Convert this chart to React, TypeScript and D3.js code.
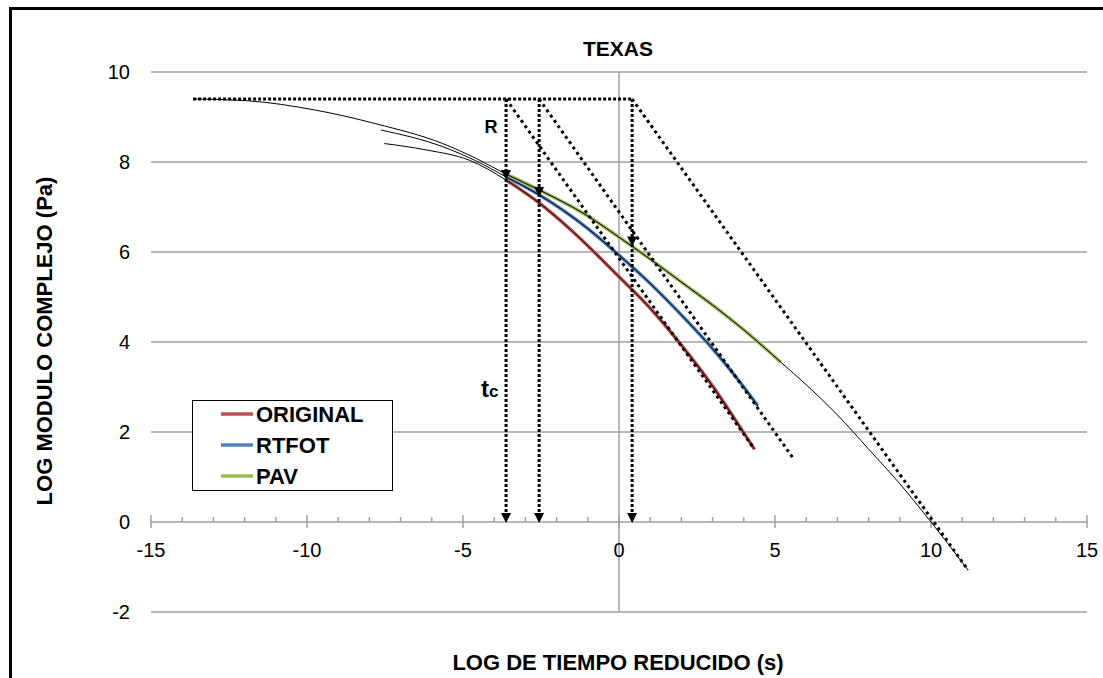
import * as d3 from "d3";

// series: [log reduced time, log complex modulus]
const originalData = [[-3.62, 7.6], [-2.56, 7.09], [-1.54, 6.49], [0, 5.45], [1, 4.75], [2, 3.93], [3, 3.02], [4, 1.98], [4.34, 1.62]];
const rtfotData = [[-3.62, 7.67], [-2.56, 7.27], [-1, 6.52], [0, 5.93], [1, 5.3], [2, 4.6], [3, 3.85], [4, 3.0], [4.45, 2.58]];
const pavData = [[-3.62, 7.73], [-2.56, 7.38], [-1, 6.8], [0, 6.33], [1, 5.84], [2, 5.33], [3, 4.82], [4, 4.27], [5.19, 3.55]];

// black model curves
const originalFit = [[-7.52, 8.41], [-6.19, 8.27], [-4.8, 8.04], ...originalData];
const rtfotFit = [[-7.63, 8.71], [-5.65, 8.34], [-4.6, 8.03], ...rtfotData];
const pavFit = [[-13.65, 9.4], [-11.9, 9.36], [-9.78, 9.16], [-7.79, 8.85], [-5.65, 8.41], [-4.58, 8.08], ...pavData,
  [6, 3.05], [7, 2.38], [8, 1.62], [9, 0.85], [10, 0], [11.19, -1.07]];

// dotted construction lines
const plateau = 9.4;
const plateauStart = -13.65;
const tcX = [-3.62, -2.56, 0.42];
const tcCurveY = [7.6, 7.22, 6.12];
const diagEnds = [[4.34, 1.62], [5.62, 1.38], [11.19, -1.07]];

const xTicks = [-15, -10, -5, 0, 5, 10, 15];
const yTicks = [-2, 0, 2, 4, 6, 8, 10];
const legendItems = [
  { name: "ORIGINAL", color: "#C0504D" },
  { name: "RTFOT", color: "#4F81BD" },
  { name: "PAV", color: "#9BBB59" },
];

const font = "'Liberation Sans', Arial, sans-serif";
const grid = "#a0a0a0";

export default function App() {
  const x = d3.scaleLinear([-15, 15], [151, 1087]);
  const y = d3.scaleLinear([-2, 10], [612, 72]);
  const line = d3.line<number[]>().x(d => x(d[0])).y(d => y(d[1])).curve(d3.curveMonotoneX);
  const minor = d3.range(-15, 16, 1).filter(v => v % 5 !== 0);

  const arrow = (tx: number, ty: number) =>
    `M${tx - 5},${ty - 10}L${tx + 5},${ty - 10}L${tx},${ty}Z`;

  return (
    <svg width={1103} height={678} style={{ position: "absolute", left: 0, top: 0, background: "#fff" }} fontFamily={font}>
      {/* frame */}
      <line x1={10.5} y1={8.5} x2={1103} y2={8.5} stroke="#000" strokeWidth={3} />
      <line x1={10.5} y1={7} x2={10.5} y2={678} stroke="#000" strokeWidth={3} />

      {/* grid */}
      {yTicks.filter(v => v !== 0).map(v => (
        <line key={v} x1={x(-15)} x2={x(15)} y1={y(v)} y2={y(v)} stroke={grid} strokeWidth={1.5} />
      ))}
      <line x1={x(0)} x2={x(0)} y1={y(10)} y2={y(-2)} stroke={grid} strokeWidth={1.5} />

      {/* x axis */}
      <line x1={x(-15)} x2={x(15)} y1={y(0)} y2={y(0)} stroke={grid} strokeWidth={1.5} />
      {xTicks.map(v => (
        <line key={v} x1={x(v)} x2={x(v)} y1={y(0) - 7} y2={y(0) + 6} stroke={grid} strokeWidth={1.5} />
      ))}
      {minor.map(v => (
        <line key={v} x1={x(v)} x2={x(v)} y1={y(0) - 5} y2={y(0)} stroke={grid} strokeWidth={1.5} />
      ))}
      {xTicks.map(v => (
        <text key={v} x={x(v)} y={y(0) + 35} textAnchor="middle" fontSize={20}>{v}</text>
      ))}
      {yTicks.map(v => (
        <text key={v} x={130} y={y(v) + 7} textAnchor="end" fontSize={20}>{v}</text>
      ))}

      {/* colored data */}
      <path d={line(originalData)!} fill="none" stroke="#C0504D" strokeWidth={3.5} />
      <path d={line(rtfotData)!} fill="none" stroke="#4F81BD" strokeWidth={3.5} />
      <path d={line(pavData)!} fill="none" stroke="#9BBB59" strokeWidth={3.5} />

      {/* fits */}
      {[originalFit, rtfotFit, pavFit].map((f, i) => (
        <path key={i} d={line(f)!} fill="none" stroke="#000" strokeWidth={1} />
      ))}

      {/* construction lines */}
      <line x1={x(plateauStart)} x2={x(tcX[2])} y1={y(plateau)} y2={y(plateau)} stroke="#000" strokeWidth={3} strokeDasharray="3 2" />
      {tcX.map((v, i) => (
        <g key={v}>
          <line x1={x(v)} x2={x(v)} y1={y(plateau)} y2={y(0) - 8} stroke="#000" strokeWidth={3} strokeDasharray="3 2" />
          <line x1={x(v)} x2={x(diagEnds[i][0])} y1={y(plateau)} y2={y(diagEnds[i][1])} stroke="#000" strokeWidth={3} strokeDasharray="3 3.5" />
          <path d={arrow(x(v), y(tcCurveY[i]))} fill="#000" />
          <path d={arrow(x(v), y(0) + 1)} fill="#000" />
        </g>
      ))}

      {/* annotations */}
      <text x={491} y={133} textAnchor="middle" fontSize={18} fontWeight="bold">R</text>
      <text x={481} y={397} fontWeight="bold">
        <tspan fontSize={24}>t</tspan>
        <tspan fontSize={17}>c</tspan>
      </text>

      {/* titles */}
      <text x={618} y={56} textAnchor="middle" fontSize={21} fontWeight="bold">TEXAS</text>
      <text x={618} y={670} textAnchor="middle" fontSize={22} fontWeight="bold">LOG DE TIEMPO REDUCIDO (s)</text>
      <text transform="translate(52,341) rotate(-90)" textAnchor="middle" fontSize={22} fontWeight="bold">LOG MODULO COMPLEJO (Pa)</text>

      {/* legend */}
      <rect x={192.5} y={400.5} width={200} height={90} fill="#fff" stroke="#000" strokeWidth={1} />
      {legendItems.map((d, i) => (
        <g key={d.name} transform={`translate(0,${414 + i * 31})`}>
          <line x1={221} x2={253} y1={0} y2={0} stroke={d.color} strokeWidth={3.5} />
          <text x={256} y={8} fontSize={22} fontWeight="bold">{d.name}</text>
        </g>
      ))}
    </svg>
  );
}
